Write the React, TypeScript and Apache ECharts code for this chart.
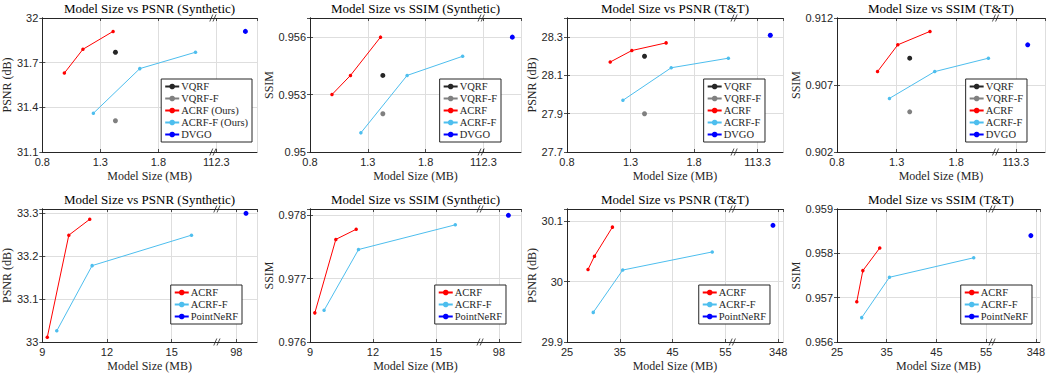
import React, { useEffect, useRef } from "react";
import * as echarts from "echarts";

// ---------- tick labels ----------
const topXTicksSyn = [0.8, 1.3, 1.8, 112.3];
const topXTicksTT = [0.8, 1.3, 1.8, 113.3];
const botXTicksSyn = [9, 12, 15, 98];
const botXTicksTT = [25, 35, 45, 55, 348];

// ---------- row 1: Synthetic ----------
const synVqrfSize = [1.43];
const synVqrfPsnr = [31.77];
const synVqrfSsim = [0.954];
const synVqrfFSize = [1.43];
const synVqrfFPsnr = [31.31];
const synVqrfFSsim = [0.952];
const synAcrfSize = [0.99, 1.15, 1.41];
const synAcrfPsnr = [31.63, 31.79, 31.91];
const synAcrfSsim = [0.953, 0.954, 0.956];
const synAcrfFSize = [1.24, 1.64, 2.12];
const synAcrfFPsnr = [31.36, 31.66, 31.77];
const synAcrfFSsim = [0.951, 0.954, 0.955];
const synDvgoSize = [112.55];
const synDvgoPsnr = [31.91];
const synDvgoSsim = [0.956];

// ---------- row 1: T&T ----------
const ttVqrfSize = [1.41];
const ttVqrfPsnr = [28.2];
const ttVqrfSsim = [0.909];
const ttVqrfFSize = [1.41];
const ttVqrfFPsnr = [27.9];
const ttVqrfFSsim = [0.905];
const ttAcrfSize = [1.14, 1.31, 1.58];
const ttAcrfPsnr = [28.17, 28.23, 28.27];
const ttAcrfSsim = [0.908, 0.91, 0.911];
const ttAcrfFSize = [1.24, 1.62, 2.07];
const ttAcrfFPsnr = [27.97, 28.14, 28.19];
const ttAcrfFSsim = [0.906, 0.908, 0.909];
const ttDvgoSize = [113.4];
const ttDvgoPsnr = [28.31];
const ttDvgoSsim = [0.91];

// ---------- row 2: Synthetic ----------
const syn2AcrfSize = [9.23, 10.23, 11.2];
const syn2AcrfPsnr = [33.011, 33.249, 33.286];
const syn2AcrfSsim = [0.97646, 0.97762, 0.97778];
const syn2AcrfFSize = [9.67, 11.31, 15.92];
const syn2AcrfFPsnr = [33.026, 33.178, 33.249];
const syn2AcrfFSsim = [0.9765, 0.97746, 0.97785];
const syn2PointSize = [98.45];
const syn2PointPsnr = [33.3];
const syn2PointSsim = [0.978];

// ---------- row 2: T&T ----------
const tt2AcrfSize = [28.98, 30.2, 33.6];
const tt2AcrfPsnr = [30.02, 30.042, 30.09];
const tt2AcrfSsim = [0.95691, 0.95761, 0.95812];
const tt2AcrfFSize = [29.97, 35.55, 52.5];
const tt2AcrfFPsnr = [29.949, 30.019, 30.049];
const tt2AcrfFSsim = [0.95655, 0.95746, 0.9579];
const tt2PointSize = [347];
const tt2PointPsnr = [30.093];
const tt2PointSsim = [0.9584];

// ---------- styling ----------
const C_VQRF = "#262626";
const C_VQRFF = "#808080";
const C_ACRF = "#ff0000";
const C_ACRFF = "#4dbeee";
const C_BLUE = "#0000ff";
const SERIF = "Liberation Serif, Times New Roman, serif";
const SANS = "Liberation Sans, Arial, sans-serif";
const INK = "#262626";

type SDef = { name: string; color: string; x: number[]; y: number[] };
type Panel = {
  title: string;
  yName: string;
  yNameGap: number;
  grid: { left: number; top: number; width: number; height: number };
  xTicks: number[];
  nBefore: number;
  step: number;
  xMax: number;
  breakPos: number;
  yMin: number;
  yMax: number;
  yInterval: number;
  legendRight: number;
  legendTop: number;
  series: SDef[];
};

const s = (name: string, color: string, x: number[], y: number[]): SDef => ({ name, color, x, y });

const TOP = 18, TOP_H = 134, BOT = 209, BOT_H = 133;

const panels: Panel[] = [
  {
    title: "Model Size vs PSNR (Synthetic)", yName: "PSNR (dB)", yNameGap: 26,
    grid: { left: 42, top: TOP, width: 215, height: TOP_H },
    xTicks: topXTicksSyn, nBefore: 3, step: 0.5, xMax: 3.7, breakPos: 2.94,
    yMin: 31.1, yMax: 32, yInterval: 0.3, legendRight: 796, legendTop: 79,
    series: [
      s("VQRF", C_VQRF, synVqrfSize, synVqrfPsnr),
      s("VQRF-F", C_VQRFF, synVqrfFSize, synVqrfFPsnr),
      s("ACRF (Ours)", C_ACRF, synAcrfSize, synAcrfPsnr),
      s("ACRF-F (Ours)", C_ACRFF, synAcrfFSize, synAcrfFPsnr),
      s("DVGO", C_BLUE, synDvgoSize, synDvgoPsnr),
    ],
  },
  {
    title: "Model Size vs SSIM (Synthetic)", yName: "SSIM", yNameGap: 32,
    grid: { left: 310, top: TOP, width: 211, height: TOP_H },
    xTicks: topXTicksSyn, nBefore: 3, step: 0.5, xMax: 3.65, breakPos: 2.96,
    yMin: 0.95, yMax: 0.957, yInterval: 0.003, legendRight: 547, legendTop: 79,
    series: [
      s("VQRF", C_VQRF, synVqrfSize, synVqrfSsim),
      s("VQRF-F", C_VQRFF, synVqrfFSize, synVqrfFSsim),
      s("ACRF", C_ACRF, synAcrfSize, synAcrfSsim),
      s("ACRF-F", C_ACRFF, synAcrfFSize, synAcrfFSsim),
      s("DVGO", C_BLUE, synDvgoSize, synDvgoSsim),
    ],
  },
  {
    title: "Model Size vs PSNR (T&T)", yName: "PSNR (dB)", yNameGap: 24,
    grid: { left: 567, top: TOP, width: 216, height: TOP_H },
    xTicks: topXTicksTT, nBefore: 3, step: 0.5, xMax: 3.4, breakPos: 2.63,
    yMin: 27.7, yMax: 28.4, yInterval: 0.2, legendRight: 283, legendTop: 79,
    series: [
      s("VQRF", C_VQRF, ttVqrfSize, ttVqrfPsnr),
      s("VQRF-F", C_VQRFF, ttVqrfFSize, ttVqrfFPsnr),
      s("ACRF", C_ACRF, ttAcrfSize, ttAcrfPsnr),
      s("ACRF-F", C_ACRFF, ttAcrfFSize, ttAcrfFPsnr),
      s("DVGO", C_BLUE, ttDvgoSize, ttDvgoPsnr),
    ],
  },
  {
    title: "Model Size vs SSIM (T&T)", yName: "SSIM", yNameGap: 32,
    grid: { left: 837, top: TOP, width: 208, height: TOP_H },
    xTicks: topXTicksTT, nBefore: 3, step: 0.5, xMax: 3.49, breakPos: 2.66,
    yMin: 0.902, yMax: 0.912, yInterval: 0.005, legendRight: 21, legendTop: 79,
    series: [
      s("VQRF", C_VQRF, ttVqrfSize, ttVqrfSsim),
      s("VQRF-F", C_VQRFF, ttVqrfFSize, ttVqrfFSsim),
      s("ACRF", C_ACRF, ttAcrfSize, ttAcrfSsim),
      s("ACRF-F", C_ACRFF, ttAcrfFSize, ttAcrfFSsim),
      s("DVGO", C_BLUE, ttDvgoSize, ttDvgoSsim),
    ],
  },
  {
    title: "Model Size vs PSNR (Synthetic)", yName: "PSNR (dB)", yNameGap: 27,
    grid: { left: 42, top: BOT, width: 215, height: BOT_H },
    xTicks: botXTicksSyn, nBefore: 3, step: 3, xMax: 3.32, breakPos: 2.7,
    yMin: 33, yMax: 33.31, yInterval: 0.1, legendRight: 806, legendTop: 285,
    series: [
      s("ACRF", C_ACRF, syn2AcrfSize, syn2AcrfPsnr),
      s("ACRF-F", C_ACRFF, syn2AcrfFSize, syn2AcrfFPsnr),
      s("PointNeRF", C_BLUE, syn2PointSize, syn2PointPsnr),
    ],
  },
  {
    title: "Model Size vs SSIM (Synthetic)", yName: "SSIM", yNameGap: 31,
    grid: { left: 310, top: BOT, width: 211, height: BOT_H },
    xTicks: botXTicksSyn, nBefore: 3, step: 3, xMax: 3.35, breakPos: 2.7,
    yMin: 0.976, yMax: 0.9781, yInterval: 0.001, legendRight: 542, legendTop: 285,
    series: [
      s("ACRF", C_ACRF, syn2AcrfSize, syn2AcrfSsim),
      s("ACRF-F", C_ACRFF, syn2AcrfFSize, syn2AcrfFSsim),
      s("PointNeRF", C_BLUE, syn2PointSize, syn2PointSsim),
    ],
  },
  {
    title: "Model Size vs PSNR (T&T)", yName: "PSNR (dB)", yNameGap: 24,
    grid: { left: 567, top: BOT, width: 216, height: BOT_H },
    xTicks: botXTicksTT, nBefore: 4, step: 10, xMax: 4.09, breakPos: 3.13,
    yMin: 29.9, yMax: 30.12, yInterval: 0.1, legendRight: 278, legendTop: 285,
    series: [
      s("ACRF", C_ACRF, tt2AcrfSize, tt2AcrfPsnr),
      s("ACRF-F", C_ACRFF, tt2AcrfFSize, tt2AcrfFPsnr),
      s("PointNeRF", C_BLUE, tt2PointSize, tt2PointPsnr),
    ],
  },
  {
    title: "Model Size vs SSIM (T&T)", yName: "SSIM", yNameGap: 32,
    grid: { left: 837, top: BOT, width: 208, height: BOT_H },
    xTicks: botXTicksTT, nBefore: 4, step: 10, xMax: 4.08, breakPos: 3.12,
    yMin: 0.956, yMax: 0.959, yInterval: 0.001, legendRight: 16, legendTop: 285,
    series: [
      s("ACRF", C_ACRF, tt2AcrfSize, tt2AcrfSsim),
      s("ACRF-F", C_ACRFF, tt2AcrfFSize, tt2AcrfFSsim),
      s("PointNeRF", C_BLUE, tt2PointSize, tt2PointSsim),
    ],
  },
];

// broken-axis position: continuous before the break, shifted after it
function xPos(p: Panel, v: number): number {
  const t = p.xTicks;
  const split = (t[p.nBefore - 1] + t[p.nBefore]) / 2;
  if (v < split) return (v - t[0]) / p.step;
  return p.nBefore + (v - t[p.nBefore]) / p.step;
}

const fmtNum = (v: number) => String(parseFloat(v.toFixed(4)));

function buildOption() {
  const grids: any[] = [];
  const xAxes: any[] = [];
  const yAxes: any[] = [];
  const series: any[] = [];
  const titles: any[] = [];
  const legends: any[] = [];

  panels.forEach((p, i) => {
    grids.push({ ...p.grid, containLabel: false, show: false });
    const xLabel = (v: number) => {
      const r = Math.round(v);
      if (Math.abs(v - r) > 1e-6 || r < 0 || r >= p.xTicks.length) return "";
      return fmtNum(p.xTicks[r]);
    };
    const yLabel = (v: number) => {
      const k = (v - p.yMin) / p.yInterval;
      if (Math.abs(k - Math.round(k)) > 1e-4) return "";
      return fmtNum(v);
    };
    const axisLine = { show: true, lineStyle: { color: INK, width: 1 } };
    const tick = { show: true, inside: true, length: 3, lineStyle: { color: INK, width: 0.8 } };
    xAxes.push({
      type: "value", gridIndex: i, position: "bottom", min: 0, max: p.xMax, interval: 1,
      axisLine, axisTick: tick,
      axisLabel: { formatter: xLabel, fontFamily: SANS, fontSize: 11, color: INK, margin: 4, showMaxLabel: false },
      splitLine: { show: true, lineStyle: { color: "#dedede", width: 1 } },
      name: "Model Size (MB)", nameLocation: "middle", nameGap: 18,
      nameTextStyle: { fontFamily: SERIF, fontSize: 12, color: INK, fontWeight: "normal" },
    });
    xAxes.push({
      type: "value", gridIndex: i, position: "top", min: 0, max: p.xMax, interval: 1,
      axisLine, axisTick: tick, axisLabel: { show: false }, splitLine: { show: false },
    });
    yAxes.push({
      type: "value", gridIndex: i, position: "left", min: p.yMin, max: p.yMax, interval: p.yInterval,
      axisLine, axisTick: tick,
      axisLabel: { formatter: yLabel, fontFamily: SANS, fontSize: 11, color: INK, margin: 4 },
      splitLine: { show: true, lineStyle: { color: "#dedede", width: 1 } },
      name: p.yName, nameLocation: "middle", nameGap: p.yNameGap,
      nameTextStyle: { fontFamily: SERIF, fontSize: 12, color: INK, fontWeight: "normal" },
    });
    yAxes.push({
      type: "value", gridIndex: i, position: "right", min: p.yMin, max: p.yMax, interval: p.yInterval,
      axisLine, axisTick: tick, axisLabel: { show: false }, splitLine: { show: false },
    });

    p.series.forEach((sd) => {
      const single = sd.x.length === 1;
      series.push({
        type: "line",
        name: sd.name,
        xAxisIndex: 2 * i,
        yAxisIndex: 2 * i,
        data: sd.x.map((xv, k) => [xPos(p, xv), sd.y[k]]),
        symbol: "circle",
        symbolSize: single ? 5 : 3.5,
        showSymbol: true,
        clip: false,
        color: sd.color,
        itemStyle: { color: sd.color },
        lineStyle: { color: sd.color, width: single && sd.color === C_BLUE ? 2 : 1 },
        emphasis: { disabled: true },
        z: 3,
      });
    });

    titles.push({
      text: p.title,
      left: p.grid.left + p.grid.width / 2,
      top: p.grid.top - 16,
      textAlign: "center",
      padding: 0,
      textStyle: { fontFamily: SERIF, fontSize: 13, fontWeight: "normal", color: "#000" },
    });

    legends.push({
      data: p.series.map((sd) => sd.name),
      orient: "vertical",
      right: p.legendRight,
      top: p.legendTop,
      itemWidth: 14,
      itemHeight: 7,
      itemGap: 1,
      padding: [2, 4, 2, 3],
      borderColor: INK,
      borderWidth: 1,
      backgroundColor: "#fff",
      selectedMode: false,
      textStyle: { fontFamily: SERIF, fontSize: 10.5, color: INK, fontWeight: "normal", lineHeight: 11, padding: [0, 0, 0, -3] },
    });
  });

  return {
    animation: false,
    backgroundColor: "#fff",
    textStyle: { fontFamily: SERIF },
    title: titles,
    grid: grids,
    xAxis: xAxes,
    yAxis: yAxes,
    legend: legends,
    series,
  };
}

export default function App() {
  const ref = useRef<HTMLDivElement>(null);
  useEffect(() => {
    if (!ref.current) return;
    const chart = echarts.init(ref.current, null, { renderer: "svg" });
    chart.setOption(buildOption() as any);
    // break markers ("//") on top and bottom axis lines
    const graphics: any[] = [];
    panels.forEach((p, i) => {
      const px = chart.convertToPixel({ xAxisIndex: 2 * i } as any, p.breakPos) as number;
      [p.grid.top, p.grid.top + p.grid.height].forEach((yy) => {
        [-1.6, 1.6].forEach((off) => {
          graphics.push({
            type: "line",
            shape: { x1: px + off - 1.5, y1: yy + 3.5, x2: px + off + 1.5, y2: yy - 3.5 },
            style: { stroke: INK, lineWidth: 0.8 },
            z: 10,
          });
        });
      });
    });
    chart.setOption({ graphic: graphics });
    return () => chart.dispose();
  }, []);
  return (
    <div
      ref={ref}
      style={{ position: "fixed", left: 0, top: 0, width: 1048, height: 377, background: "#fff" }}
    />
  );
}
